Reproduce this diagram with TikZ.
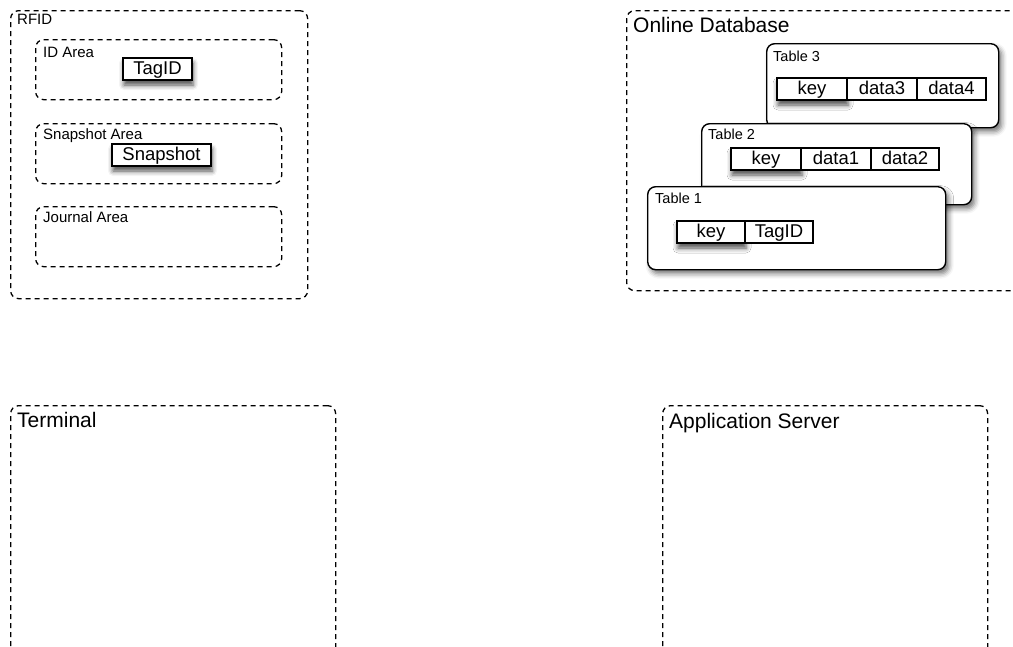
\documentclass[tikz,border=0pt]{standalone}
\usepackage{fontspec}
\setmainfont{Liberation Sans}
\usetikzlibrary{positioning,calc,shadows.blur}
\tikzset{area/.style={draw,dash pattern=on 5pt off 4pt,line width=1.3pt,rounded corners=8pt,inner sep=0pt,anchor=north west}, }
\tikzset{big title/.style={anchor=base west,inner sep=0pt,font=\fontsize{21}{24}\selectfont}, }
\tikzset{small title/.style={anchor=base west,inner sep=0pt,font=\fontsize{15}{17}\selectfont}, }
\tikzset{table title/.style={anchor=base west,inner sep=0pt,font=\fontsize{14.5}{16}\selectfont}, }
\tikzset{table box/.style={draw,fill=white,line width=1.4pt,rounded corners=8pt,inner sep=0pt,anchor=north west,
    blur shadow={shadow xshift=3pt,shadow yshift=-4pt,shadow blur radius=5pt,shadow opacity=55}}, }
\tikzset{cell/.style={draw,fill=white,line width=1.2pt,inner sep=0pt,outer sep=0pt,minimum height=22pt,
    text height=14pt,text depth=3pt,font=\fontsize{18.5}{20}\selectfont}, }
\tikzset{field/.style={cell,anchor=north west,
    blur shadow={shadow xshift=1pt,shadow yshift=-5pt,shadow blur radius=5pt,shadow opacity=70}}, }

\begin{document}
\begin{tikzpicture}[x=1pt,y=-1pt]
  \useasboundingbox (0,0) rectangle (1013,646);
  \clip (0,0) rectangle (1013,646);
  % RFID tag
  \node[area,minimum width=297pt,minimum height=288pt] (rfid) at (10,10) {};
  \node[small title] (rfidl) at (17,24) {RFID};
  \node[area,minimum width=246pt,minimum height=60pt] (idarea) at (35,39) {};
  \node[small title] (idareal) at (43,57) {ID Area};
  \node[field,minimum width=69pt] (tagid) at (123,58) {TagID};
  \node[area,minimum width=246pt,minimum height=60pt] (snaparea) at (35,123) {};
  \node[small title] (snaparea l) at (43,139) {Snapshot Area};
  \node[field,minimum width=99pt] (snapshot) at (112,144) {Snapshot};
  \node[area,minimum width=246pt,minimum height=60pt] (journal) at (35,206) {};
  \node[small title] (journal l) at (43,222) {Journal Area};
  % database
  \node[area,minimum width=400pt,minimum height=280pt] (db) at (626,10) {};
  \node[big title] (dbl) at (633,32) {Online Database};
  \node[table box,minimum width=232pt,minimum height=84pt] (tab3) at (766,43) {};
  \node[table title] (tab3l) at (773,61) {Table 3};
  \node[field,minimum width=70pt] (key3) at (777,78) {key};
  \node[cell,minimum width=70pt,right=0pt of key3] (data3) {data3};
  \node[cell,minimum width=69pt,right=0pt of data3] (data4) {data4};
  \node[table box,minimum width=270pt,minimum height=81pt] (tab2) at (701,123) {};
  \node[table title] (tab2l) at (708,139) {Table 2};
  \node[field,minimum width=70pt] (key2) at (731,148) {key};
  \node[cell,minimum width=70pt,right=0pt of key2] (data1) {data1};
  \node[cell,minimum width=68pt,right=0pt of data1] (data2) {data2};
  \node[table box,minimum width=298pt,minimum height=83pt] (tab1) at (647,186) {};
  \node[table title] (tab1l) at (655,203) {Table 1};
  \node[field,minimum width=68pt] (key1) at (677,221) {key};
  \node[cell,minimum width=68pt,right=0pt of key1] (tagidref) {TagID};
  % terminal and server
  \node[area,minimum width=325pt,minimum height=260pt] (terminal) at (10,405) {};
  \node[big title] (terminall) at (17,427) {Terminal};
  \node[area,minimum width=325pt,minimum height=260pt] (server) at (662,405) {};
  \node[big title] (serverl) at (669,428) {Application Server};
\end{tikzpicture}
\end{document}
